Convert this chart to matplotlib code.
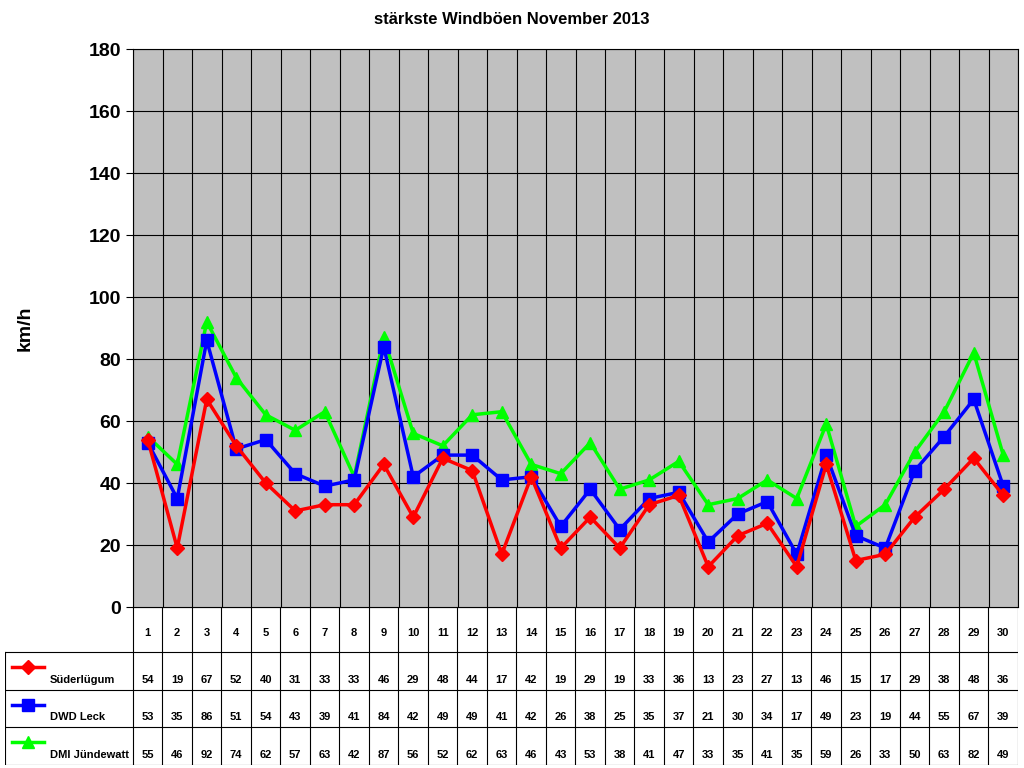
import matplotlib
matplotlib.use("Agg")
import matplotlib.pyplot as plt
import numpy as np

days = list(range(1, 31))
names = ["Süderlügum", "DWD Leck", "DMI Jündewatt"]
sued = [54,19,67,52,40,31,33,33,46,29,48,44,17,42,19,29,19,33,36,13,23,27,13,46,15,17,29,38,48,36]
leck = [53,35,86,51,54,43,39,41,84,42,49,49,41,42,26,38,25,35,37,21,30,34,17,49,23,19,44,55,67,39]
dmi = [55,46,92,74,62,57,63,42,87,56,52,62,63,46,43,53,38,41,47,33,35,41,35,59,26,33,50,63,82,49]
series = [sued, leck, dmi]
colors = ["#FF0000", "#0000FF", "#00FF00"]
markers = ["D", "s", "^"]
msizes = [7, 9, 9]

plt.rcParams['font.family'] = ['Liberation Sans', 'DejaVu Sans']
fig = plt.figure(figsize=(10.24, 7.68), dpi=100)
ax = fig.add_axes([133/1024, 1-607/768, 885/1024, 558/768])
ax.set_facecolor("#C0C0C0")
n = len(days)
x = np.arange(n)
order = [2, 1, 0]
for i in order:
    ax.plot(x, series[i], color=colors[i], marker=markers[i], ms=msizes[i], lw=2.5, zorder=3+ (2-i))
ax.set_xlim(-0.5, n-0.5)
ax.set_ylim(0, 180)
ax.set_yticks(range(0, 181, 20))
ax.set_xticks([])
for b in np.arange(-0.5, n, 1):
    ax.axvline(b, color="black", lw=0.8, zorder=1)
for yv in range(20, 181, 20):
    ax.axhline(yv, color="black", lw=0.8, zorder=1)
for s in ax.spines.values():
    s.set_color("black")
ax.tick_params(axis='y', labelsize=14, length=5)
for t in ax.get_yticklabels():
    t.set_fontweight("bold")
ax.set_ylabel("km/h", fontsize=14, fontweight="bold", labelpad=40)
fig.text(0.5, 1-20/768, "stärkste Windböen November 2013", ha="center", va="center", fontsize=12, fontweight="bold")

# table
tx = fig.add_axes([5/1024, 3/768, 1013/1024, 158/768])
tx.set_xlim(5, 1018)
tx.set_ylim(765, 607)
tx.axis("off")
L, R, X0 = 5, 1018, 133
cw = (R - X0) / n
rows = [607, 652, 690, 727, 765]
tx.plot([X0, X0], [607, 765], color="black", lw=0.8)
tx.plot([L, L], [652, 765], color="black", lw=0.8)
tx.plot([R, R], [607, 765], color="black", lw=0.8)
for j in range(1, n):
    xx = X0 + j*cw
    tx.plot([xx, xx], [607, 765], color="black", lw=0.8)
for k, yy in enumerate(rows):
    tx.plot([L if k > 0 else X0, R], [yy, yy], color="black", lw=0.8)
for j, d in enumerate(days):
    tx.text(X0 + (j+0.5)*cw, 633, str(d), ha="center", va="center", fontsize=8, fontweight="bold")
for r in range(3):
    y0, y1 = rows[r+1], rows[r+2]
    yl = y1 - 10
    for j, v in enumerate(series[r]):
        tx.text(X0 + (j+0.5)*cw, yl, str(v), ha="center", va="center", fontsize=8, fontweight="bold")
    ym = y0 + 0.4*(y1 - y0)
    tx.plot([12, 44], [ym, ym], color=colors[r], lw=2.5)
    tx.plot([28], [ym], color=colors[r], marker=markers[r], ms=msizes[r])
    tx.text(50, yl, names[r], ha="left", va="center", fontsize=8, fontweight="bold")

fig.savefig("out.png", dpi=100)
